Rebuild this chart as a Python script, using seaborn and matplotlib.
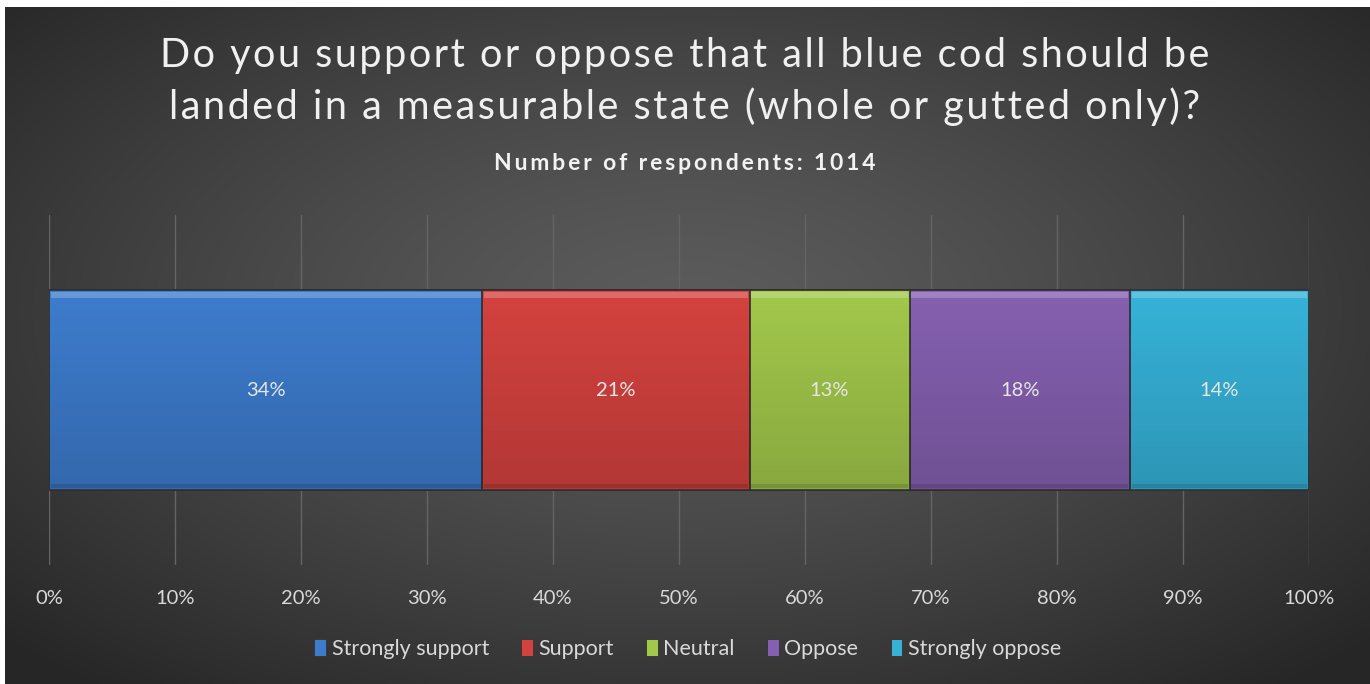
import matplotlib
matplotlib.use("Agg")
import matplotlib.pyplot as plt
from matplotlib.patches import Patch
import numpy as np
import pandas as pd
import seaborn as sns

# data (shares of 1014 respondents)
categories = ["Strongly support", "Support", "Neutral", "Oppose", "Strongly oppose"]
shares = [34.4, 21.2, 12.7, 17.5, 14.2]
labels = ["34%", "21%", "13%", "18%", "14%"]
ticks = [0, 10, 20, 30, 40, 50, 60, 70, 80, 90, 100]
tick_labels = ["%d%%" % t for t in ticks]
colors = ["#3d7ccd", "#d4423f", "#a2c84b", "#8560b0", "#36b2d8"]

title_lines = ["Do you support or oppose that all blue cod should be",
               "landed in a measurable state (whole or gutted only)?"]
subtitle = "Number of respondents: 1014"

df = pd.DataFrame({"cat": categories, "share": shares})
df["cum"] = df["share"].cumsum()
df["start"] = df["cum"] - df["share"]
df["row"] = "all"

sns.set_theme(style="dark")
plt.rcParams["font.family"] = ["Lato", "DejaVu Sans"]

W, H = 1370, 684
fig = plt.figure(figsize=(W / 100, H / 100), dpi=100)
fig.patch.set_facecolor("white")

# radial gradient background
bg = fig.add_axes([5 / W, 0, 1 - 5 / W, 1 - 7 / H], zorder=-5)
yy, xx = np.mgrid[-1:1:300j, -1:1:600j]
r = np.sqrt((xx * 0.95) ** 2 + ((yy + 0.1) * 0.9) ** 2)
shade = 0.36 - 0.21 * np.clip(r / 1.3, 0, 1) ** 1.3
bg.imshow(np.dstack([shade] * 3), aspect="auto", extent=[0, 1, 0, 1])
bg.set_axis_off()

ax = fig.add_axes([49 / W, 1 - 565 / H, 1260 / W, 350 / H])
ax.set_facecolor("none")

# stacked bars: draw cumulative totals from the right end back to the left
for i in range(len(categories) - 1, -1, -1):
    sub = df.iloc[[i]]
    sns.barplot(data=sub, x="cum", y="row", color=colors[i], orient="h",
                width=0.57, ax=ax, saturation=1, edgecolor="#2e2e2e",
                linewidth=1.2, zorder=3)

ax.set_xlim(0, 100)
ax.set_ylim(0.5, -0.5)
ax.set_xticks(ticks)
ax.set_xticklabels(tick_labels, color="#d9d9d9", fontsize=14.5)
ax.tick_params(axis="x", length=0, pad=18)
ax.set_yticks([])
ax.set_xlabel("")
ax.set_ylabel("")
ax.grid(axis="x", color="#646464", linewidth=1, zorder=0)
ax.grid(axis="y", visible=False)
for s in ax.spines.values():
    s.set_visible(False)

# soft shading over the bar: lighter at the top, darker at the bottom
grad = np.linspace(0, 1, 100).reshape(-1, 1)
rgba = np.zeros((100, 1, 4))
rgba[..., 3] = 0.16 * grad
ax.imshow(rgba, aspect="auto", extent=[0, 100, 0.283, -0.283], zorder=4,
          interpolation="bilinear")
ax.set_xlim(0, 100)
ax.set_ylim(0.5, -0.5)

for i, row in df.iterrows():
    ax.barh(-0.272, row["share"] - 0.3, left=row["start"] + 0.15, height=0.018,
            color="white", alpha=0.22, zorder=5, linewidth=0)
    ax.barh(0.275, row["share"] - 0.3, left=row["start"] + 0.15, height=0.012,
            color="black", alpha=0.12, zorder=5, linewidth=0)
    ax.text(row["start"] + row["share"] / 2, 0, labels[i], ha="center",
            va="center", color="#e6e6e6", fontsize=14.5, zorder=6)

# title with a little extra letter spacing, like the original
for k, line in enumerate(title_lines):
    fig.text(0.5, 1 - (55 + 52 * k) / H, "\u200a".join(line), ha="center",
             va="center", color="#f0f0f0", fontsize=28.5)
fig.text(0.5, 1 - 163 / H, "\u2009".join(subtitle), ha="center", va="center",
         color="#f2f2f2", fontsize=16.5, fontweight="bold")

handles = [Patch(facecolor=c, edgecolor="#333333", linewidth=0.6) for c in colors]
fig.legend(handles, categories, loc="center", bbox_to_anchor=(0.502, 1 - 649 / H),
           ncol=5, frameon=False, fontsize=15.5, labelcolor="#d9d9d9",
           handlelength=0.55, handleheight=0.85, handletextpad=0.25,
           columnspacing=1.5)

fig.savefig("out.png", dpi=100, facecolor=fig.get_facecolor())
